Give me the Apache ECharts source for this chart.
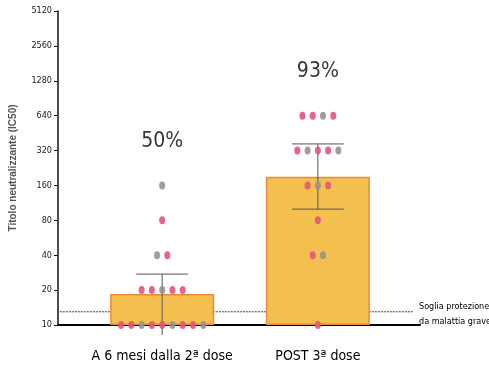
<!DOCTYPE html>
<html>
<head>
<meta charset="utf-8">
<script src="https://cdn.jsdelivr.net/npm/echarts@6/dist/echarts.min.js"></script>
<style>html,body{margin:0;padding:0;background:#fff}#c{width:489px;height:377px}</style>
</head>
<body>
<div id="c"></div>
<script>
const categories = ['A 6 mesi dalla 2ª dose', 'POST 3ª dose'];
const yTicks = [10, 20, 40, 80, 160, 320, 640, 1280, 2560, 5120];
const points1 = [160, 80, 40, 40, 20, 20, 20, 20, 20, 10, 10, 10, 10, 10, 10, 10, 10, 10];
const points2 = [640, 640, 640, 640, 320, 320, 320, 320, 320, 160, 160, 160, 80, 40, 40, 10];
const barValues = [18.5, 190];
const errLow = [8.2, 100];
const errHigh = [27.5, 365];
const threshold = 13;
const thresholdLabel = 'Soglia protezione\nda malattia grave';

const NARROW = "'Liberation Sans Narrow','Arial Narrow','DejaVu Sans Condensed',sans-serif";
const base = yTicks[0];
const t = v => Math.log2(v / base);
const xMin = -0.669, xMax = 1.656;
const spread = 0.066;

function swarm(vals, cat) {
  const groups = {};
  vals.forEach(v => { (groups[v] = groups[v] || []).push(v); });
  const out = [];
  Object.keys(groups).forEach(k => {
    const g = groups[k];
    g.forEach((v, i) => out.push([cat + (i - (g.length - 1) / 2) * spread, t(v)]));
  });
  return out;
}
const allPoints = [points1, points2];
const scatterData = swarm(points1, 0).concat(swarm(points2, 1));
const pct = allPoints.map(p => Math.floor(100 * p.filter(v => v > threshold).length / p.length) + '%');
const pctData = allPoints.map((p, i) => ({ value: [i, t(Math.max(...p))], name: pct[i] }));
const ptColors = ['#E2577A', '#E2577A', '#9A9096'];

const chart = echarts.init(document.getElementById('c'), null, { renderer: 'canvas' });
chart.setOption({
  animation: false,
  grid: { left: 55, right: 69, top: 11, bottom: 52 },
  xAxis: {
    type: 'value', min: xMin, max: xMax,
    splitLine: { show: false },
    axisLine: { show: true, onZero: false, lineStyle: { color: '#000', width: 2 } },
    axisTick: { show: false },
    axisLabel: {
      customValues: [0, 1],
      formatter: v => categories[Math.round(v)],
      color: '#000', fontFamily: NARROW, fontSize: 14, margin: 24
    }
  },
  yAxis: {
    type: 'value', min: 0, max: yTicks.length - 1, interval: 1,
    name: 'Titolo neutralizzante (IC50)', nameLocation: 'middle', nameGap: 40,
    nameTextStyle: { color: '#555', fontWeight: 'bold', fontSize: 10, fontFamily: "'Liberation Sans',Arial,sans-serif" },
    splitLine: { show: false },
    axisLine: { show: true, onZero: false, lineStyle: { color: '#111', width: 1.5 } },
    axisTick: { show: true, length: 4, lineStyle: { color: '#111' } },
    axisLabel: { formatter: v => String(yTicks[Math.round(v)]), color: '#222', fontSize: 9, fontFamily: NARROW, margin: 6 }
  },
  series: [
    {
      type: 'line', z: 1, symbol: 'none', silent: true,
      data: [[xMin + 0.012, t(threshold)], [1.611, t(threshold)]],
      lineStyle: { color: '#444', width: 1, type: [2, 1] },
      endLabel: { show: true, formatter: thresholdLabel, color: '#000', fontSize: 9, fontFamily: NARROW, lineHeight: 15, distance: 6, offset: [0, 2] }
    },
    {
      type: 'bar', z: 2, barWidth: 104,
      data: barValues.map((v, i) => [i, t(v)]),
      itemStyle: { color: '#F3BF4E', borderColor: '#EC8A3A', borderWidth: 1.5 }
    },
    {
      type: 'custom', z: 3, clip: false,
      data: barValues.map((v, i) => [i, t(errLow[i]), t(errHigh[i])]),
      renderItem: (params, api) => {
        const x = api.value(0);
        const lo = api.coord([x, api.value(1)]);
        const hi = api.coord([x, api.value(2)]);
        const capL = api.coord([x - 0.166, api.value(2)])[0];
        const capR = api.coord([x + 0.166, api.value(2)])[0];
        const style = { stroke: '#555', lineWidth: 1 };
        const ch = [
          { type: 'line', shape: { x1: lo[0], y1: lo[1], x2: hi[0], y2: hi[1] }, style },
          { type: 'line', shape: { x1: capL, y1: hi[1], x2: capR, y2: hi[1] }, style }
        ];
        if (api.value(1) >= 0) ch.push({ type: 'line', shape: { x1: capL, y1: lo[1], x2: capR, y2: lo[1] }, style });
        return { type: 'group', children: ch };
      }
    },
    {
      type: 'scatter', z: 4, symbol: 'circle', symbolSize: [6, 8],
      data: scatterData,
      itemStyle: { color: p => ptColors[p.dataIndex % ptColors.length], opacity: 0.9 }
    },
    {
      type: 'scatter', z: 5, symbolSize: 0, silent: true,
      data: pctData,
      label: { show: true, position: 'inside', offset: [0, -44], formatter: p => p.name, color: '#000', fontSize: 21, fontFamily: NARROW }
    }
  ]
});
</script>
</body>
</html>
